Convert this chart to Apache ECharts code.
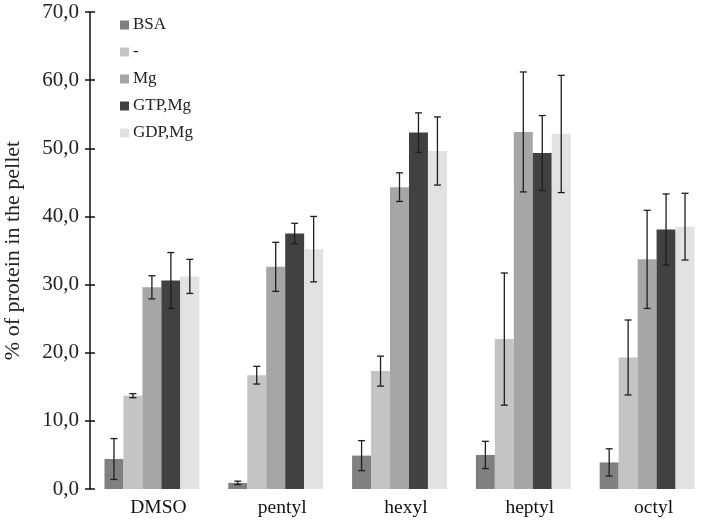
<!DOCTYPE html>
<html><head><meta charset="utf-8">
<script src="https://cdn.jsdelivr.net/npm/echarts@6/dist/echarts.min.js"></script>
<style>html,body{margin:0;padding:0;background:#fff}#c{width:709px;height:520px}</style>
</head><body><div id="c"></div>
<script>
var categories = ['DMSO', 'pentyl', 'hexyl', 'heptyl', 'octyl'];
var seriesNames = ['BSA', '-', 'Mg', 'GTP,Mg', 'GDP,Mg'];
var colors = ['#808080', '#c4c4c4', '#a6a6a6', '#414141', '#e2e2e2'];
var bsaVals = [4.4, 0.9, 4.9, 5.0, 3.9];
var bsaErr = [3.0, 0.25, 2.2, 2.0, 2.0];
var noneVals = [13.7, 16.7, 17.3, 22.0, 19.3];
var noneErr = [0.3, 1.3, 2.2, 9.7, 5.5];
var mgVals = [29.6, 32.6, 44.3, 52.4, 33.7];
var mgErr = [1.7, 3.6, 2.1, 8.8, 7.2];
var gtpVals = [30.6, 37.5, 52.3, 49.3, 38.1];
var gtpErr = [4.1, 1.5, 2.9, 5.5, 5.2];
var gdpVals = [31.2, 35.2, 49.6, 52.1, 38.5];
var gdpErr = [2.5, 4.8, 5.0, 8.6, 4.9];
var yTicks = [0, 10, 20, 30, 40, 50, 60, 70];

var allVals = [bsaVals, noneVals, mgVals, gtpVals, gdpVals];
var allErr = [bsaErr, noneErr, mgErr, gtpErr, gdpErr];
var catGap = 0.234;
var font = '"Liberation Serif", "Times New Roman", serif';

var series = [];
seriesNames.forEach(function (n, i) {
  series.push({
    name: n, type: 'bar', data: allVals[i], barGap: '0%', barCategoryGap: (catGap * 100) + '%',
    itemStyle: { color: colors[i] }, emphasis: { disabled: true }
  });
});
var errData = [];
allVals.forEach(function (vals, s) {
  vals.forEach(function (v, c) { errData.push([c, s, v, allErr[s][c]]); });
});
series.push({
  type: 'custom', data: errData, z: 10, silent: true,
  renderItem: function (params, api) {
    var c = api.value(0), s = api.value(1), v = api.value(2), e = api.value(3);
    var band = api.size([1, 0])[0];
    var gw = band * (1 - catGap);
    var bw = gw / 5;
    var center = api.coord([c, v]);
    var x = center[0] - gw / 2 + bw * (s + 0.5);
    var yt = api.coord([c, v + e])[1];
    var yb = api.coord([c, Math.max(v - e, 0)])[1];
    var cap = 3.5;
    var st = { stroke: '#1e1e1e', lineWidth: 1.3 };
    return {
      type: 'group', children: [
        { type: 'line', shape: { x1: x, y1: yt, x2: x, y2: yb }, style: st },
        { type: 'line', shape: { x1: x - cap, y1: yt, x2: x + cap, y2: yt }, style: st },
        { type: 'line', shape: { x1: x - cap, y1: yb, x2: x + cap, y2: yb }, style: st }
      ]
    };
  }
});

var chart = echarts.init(document.getElementById('c'), null, { renderer: 'canvas' });
chart.setOption({
  animation: false,
  backgroundColor: '#fff',
  textStyle: { fontFamily: font },
  grid: { left: 90, right: 0, top: 12, bottom: 31, containLabel: false, outerBoundsMode: 'none' },
  legend: {
    data: seriesNames, orient: 'vertical', left: 120, top: 16.5, padding: 0,
    itemWidth: 9, itemHeight: 9, itemGap: 10, icon: 'rect',
    textStyle: { fontFamily: font, fontSize: 17, color: '#222', padding: [0, 0, 0, -1] }
  },
  xAxis: {
    type: 'category', data: categories,
    axisLine: { show: false }, axisTick: { show: false },
    axisLabel: { fontFamily: font, fontSize: 19.5, color: '#111', margin: 9, padding: [0, 0, 0, 13] }
  },
  yAxis: [{
    type: 'value', min: yTicks[0], max: yTicks[yTicks.length - 1], interval: 10,
    name: '% of protein in the pellet', nameLocation: 'middle', nameGap: 66,
    nameTextStyle: { fontFamily: font, fontSize: 22, color: '#222' },
    axisLine: { show: true, lineStyle: { color: '#111', width: 1.5 } },
    axisTick: { show: true, length: 5, lineStyle: { color: '#111', width: 1.5 } },
    splitLine: { show: false },
    axisLabel: {
      fontFamily: font, fontSize: 21, color: '#222', margin: 11,
      formatter: function (v) { return v.toFixed(1).replace('.', ','); }
    }
  }, {
    type: 'value', min: yTicks[0], max: yTicks[yTicks.length - 1], interval: 10, position: 'left',
    axisLine: { show: false },
    axisTick: { show: true, inside: true, length: 5, lineStyle: { color: '#111', width: 1.5 } },
    axisLabel: { show: false }, splitLine: { show: false }
  }],
  series: series
});
</script></body></html>
